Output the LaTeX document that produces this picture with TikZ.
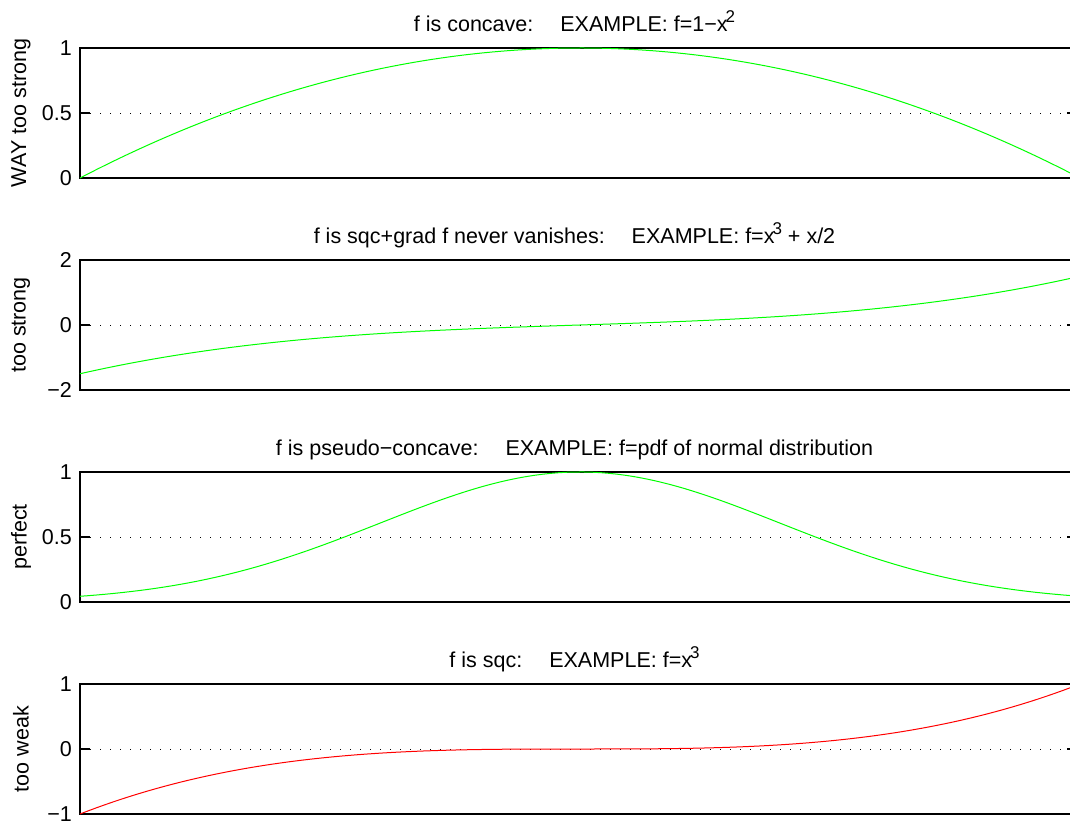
\documentclass[tikz,border=0pt]{standalone}
\usepackage{fontspec}
\setmainfont{Liberation Sans}
\newcommand{\supnum}[1]{\hspace{-2pt}\raisebox{9pt}{\fontsize{17}{17}\selectfont #1}}
\begin{document}
\begin{tikzpicture}[x=1pt,y=1pt,
		every node/.style={font=\fontsize{21.5}{26}\selectfont},
		axisbox/.style={draw,line width=1.2pt},
		gridline/.style={dash pattern=on 1.2pt off 8.8pt,line width=0.9pt},
		ticklab/.style={anchor=east,inner sep=0pt},
		ylab/.style={rotate=90,inner sep=0pt},
		ttl/.style={anchor=base,inner sep=0pt},
		curve/.style={line width=1pt}
	]
	\useasboundingbox (0,0) rectangle (1070,822);

	% concave
	\draw[axisbox] (80,644) rectangle (1080,774);
	\draw[gridline] (80,709) -- (1080,709);
	\foreach \y in {644,709,774} {
			\draw[axisbox] (80,\y) -- (90,\y);
			\draw[axisbox] (1067,\y) -- (1080,\y);
		}
	\node[ticklab] (a0) at (72,644) {0};
	\node[ticklab] (a1) at (72,709) {0.5};
	\node[ticklab] (a2) at (72,774) {1};
	\node[ylab] (alab) at (21,709) {WAY too strong};
	\node[ttl] (atitle) at (574.5,790.5) {f is concave:\hspace{19pt} EXAMPLE: f=1−x\supnum{2}};
	\draw[green,curve] plot[domain=-1:1,samples=120] ({80+500*(\x+1)},{644+130*(1-(\x)*(\x))});

	% sqc, gradient never vanishes
	\draw[axisbox] (80,432) rectangle (1080,562);
	\draw[gridline] (80,497) -- (1080,497);
	\foreach \y in {432,497,562} {
			\draw[axisbox] (80,\y) -- (90,\y);
			\draw[axisbox] (1067,\y) -- (1080,\y);
		}
	\node[ticklab] (b0) at (72,432) {−2};
	\node[ticklab] (b1) at (72,497) {0};
	\node[ticklab] (b2) at (72,562) {2};
	\node[ylab] (blab) at (21,497) {too strong};
	\node[ttl] (btitle) at (574.5,578.5) {f is sqc+grad f never vanishes:\hspace{19pt} EXAMPLE: f=x\supnum{3} + x/2};
	\draw[green,curve] plot[domain=-1:1,samples=120] ({80+500*(\x+1)},{497+32.5*((\x)*(\x)*(\x)+0.5*(\x))});

	% pseudo-concave
	\draw[axisbox] (80,220) rectangle (1080,350);
	\draw[gridline] (80,285) -- (1080,285);
	\foreach \y in {220,285,350} {
			\draw[axisbox] (80,\y) -- (90,\y);
			\draw[axisbox] (1067,\y) -- (1080,\y);
		}
	\node[ticklab] (c0) at (72,220) {0};
	\node[ticklab] (c1) at (72,285) {0.5};
	\node[ticklab] (c2) at (72,350) {1};
	\node[ylab] (clab) at (21,285) {perfect};
	\node[ttl] (ctitle) at (574.5,366.5) {f is pseudo−concave:\hspace{19pt} EXAMPLE: f=pdf of normal distribution};
	\draw[green,curve] plot[domain=-1:1,samples=120] ({80+500*(\x+1)},{220+130*exp(-(\x)*(\x)/0.32)});

	% sqc
	\draw[axisbox] (80,8) rectangle (1080,138);
	\draw[gridline] (80,73) -- (1080,73);
	\foreach \y in {8,73,138} {
			\draw[axisbox] (80,\y) -- (90,\y);
			\draw[axisbox] (1067,\y) -- (1080,\y);
		}
	\node[ticklab] (d0) at (72,8) {−1};
	\node[ticklab] (d1) at (72,73) {0};
	\node[ticklab] (d2) at (72,138) {1};
	\node[ylab] (dlab) at (21,73) {too weak};
	\node[ttl] (dtitle) at (574.5,154.5) {f is sqc:\hspace{19pt} EXAMPLE: f=x\supnum{3}};
	\draw[red,curve] plot[domain=-1:1,samples=120] ({80+500*(\x+1)},{73+65*(\x)*(\x)*(\x)});
\end{tikzpicture}
\end{document}
